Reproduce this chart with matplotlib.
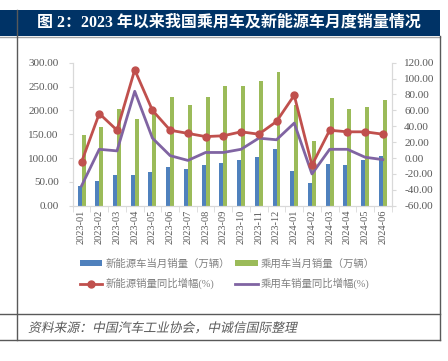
# -*- coding: utf-8 -*-
"""
2023 年以来乘用车及新能源车月度销量（柱：万辆，线：同比 %）
"""

import numpy as np
import matplotlib.pyplot as plt
from matplotlib.patches import Rectangle, PathPatch
from matplotlib.lines import Line2D
from matplotlib.textpath import TextPath
from matplotlib.font_manager import FontProperties
from matplotlib.transforms import Affine2D

# ============================================================
# 1. DATOS
# ============================================================
meses = ["2023-01", "2023-02", "2023-03", "2023-04", "2023-05", "2023-06",
         "2023-07", "2023-08", "2023-09", "2023-10", "2023-11", "2023-12",
         "2024-01", "2024-02", "2024-03", "2024-04", "2024-05", "2024-06"]

ventas_nev = [40.8, 52.5, 65.3, 63.6, 71.7, 80.6, 78.0, 84.6, 90.4, 95.6,
              102.6, 119.1, 72.9, 47.7, 88.3, 85.0, 95.5, 104.9]
ventas_pc = [148, 166, 202, 181, 206, 227, 211, 229, 251, 251,
             261, 280, 211, 135, 225, 202, 208, 222]

yoy_nev = [-5, 56, 35, 111, 60, 35, 31, 27, 28, 33, 30, 46,
           79, -9, 35, 33, 33, 30]
yoy_pc = [-35, 11, 9, 84, 25, 3, -3, 7, 7, 11, 25, 23,
          44, -20, 11, 11, 1, -2]

TITULO = "图 2：2023 年以来我国乘用车及新能源车月度销量情况"
FUENTE = "资料来源：中国汽车工业协会，中诚信国际整理"

AZUL = "#4F81BD"
VERDE = "#9BBB59"
ROJO = "#C0504D"
MORADO = "#8064A2"
NAVY = "#003366"
GRIS_TXT = "#595959"
GRIS_LEY = "#808080"
GRIS_EJE = "#D9D9D9"
BORDE = "#595959"

CJK = ["Liberation Serif", "Noto Sans CJK SC"]
plt.rcParams["font.family"] = CJK

W, H = 448, 361

# ============================================================
# 2. FIGURA Y MARCO
# ============================================================
fig = plt.figure(figsize=(W / 100, H / 100), dpi=100)
fig.patch.set_facecolor("white")


def px(x, y):
    """pixel (desde arriba-izquierda) -> coordenadas de figura"""
    return x / W, 1 - y / H


# barra de titulo
x0, y0 = px(0, 36)
fig.patches.append(Rectangle((x0, y0), 440 / W, 26 / H, transform=fig.transFigure,
                             facecolor=NAVY, edgecolor="none", zorder=0))
fig.text(*px(229, 23), TITULO, color="white", fontsize=11.5, fontweight="bold",
         ha="center", va="center")


# lineas del marco
def linea(xa, ya, xb, yb, color=BORDE, lw=1.0):
    (fa, ga), (fb, gb) = px(xa, ya), px(xb, yb)
    fig.add_artist(Line2D([fa, fb], [ga, gb], transform=fig.transFigure,
                          color=color, lw=lw))


linea(0, 36.5, 440, 36.5, color="#A6A6A6")
linea(16.7, 10, 16.7, 340)
linea(440, 36, 440, 340)
linea(0, 314, 440, 314)
linea(0, 340, 440, 340)

# fuente en cursiva: Noto CJK no tiene italica, se inclina el trazo a mano
tp = TextPath((0, 0), FUENTE, size=12.8,
              prop=FontProperties(family="Noto Sans CJK SC"))
tr = Affine2D().skew_deg(12, 0).translate(28, H - 332)
fig.add_artist(PathPatch(tr.transform_path(tp), transform=None,
                         facecolor="#5a5a5a", edgecolor="none", lw=0))

# ============================================================
# 3. EJES
# ============================================================
ax = fig.add_axes([72.7 / W, 1 - 205.7 / H, 319 / W, 143 / H])
ax2 = ax.twinx()

x = np.arange(len(meses))
ancho = 0.225
ax.bar(x - ancho / 2, ventas_nev, width=ancho, color=AZUL, zorder=2,
       label="新能源车当月销量（万辆）")
ax.bar(x + ancho / 2, ventas_pc, width=ancho, color=VERDE, zorder=2,
       label="乘用车当月销量（万辆）")

ax2.plot(x, yoy_nev, color=ROJO, lw=2.0, marker="o", ms=5, zorder=4,
         label="新能源销量同比增幅(%)")
ax2.plot(x, yoy_pc, color=MORADO, lw=2.0, zorder=3,
         label="乘用车销量同比增幅(%)")

ax.set_xlim(-0.5, len(meses) - 0.5)
ax.set_ylim(0, 300)
ax.set_yticks(np.arange(0, 301, 50))
ax.set_yticklabels([f"{v:.2f}" for v in np.arange(0, 301, 50)])
ax2.set_ylim(-60, 120)
ax2.set_yticks(np.arange(-60, 121, 20))
ax2.set_yticklabels([f"{v:.2f}" for v in np.arange(-60, 121, 20)])

ax.set_xticks(x)
ax.set_xticklabels(meses, rotation=90)
ax.set_xticks(np.arange(-0.5, len(meses), 1), minor=True)
ax.tick_params(axis="x", which="major", length=0, pad=3, labelsize=7.5,
               labelcolor=GRIS_TXT)
ax.tick_params(axis="x", which="minor", length=4, color=GRIS_EJE)
ax.tick_params(axis="y", length=3, color=GRIS_EJE, labelsize=8,
               labelcolor=GRIS_TXT, pad=7)
ax2.tick_params(axis="y", length=3, color=GRIS_EJE, labelsize=8,
                labelcolor=GRIS_TXT, pad=6)

for a in (ax, ax2):
    a.spines["top"].set_visible(False)
    for s in ("left", "right", "bottom"):
        a.spines[s].set_color(GRIS_EJE)
    a.set_facecolor("none")

# ============================================================
# 4. LEYENDA
# ============================================================
h1, l1 = ax.get_legend_handles_labels()
h2, l2 = ax2.get_legend_handles_labels()
handles = [h1[0], h2[0], h1[1], h2[1]]
labels = [l1[0], l2[0], l1[1], l2[1]]
fig.legend(handles, labels, ncol=2, loc="center",
           bbox_to_anchor=(px(227, 274)), frameon=False,
           labelcolor=GRIS_LEY, handlelength=2.2, handleheight=0.45,
           columnspacing=0.5, labelspacing=0.85, handletextpad=0.25,
           prop={"family": CJK, "size": 7.5})

plt.savefig("out.png", dpi=100, facecolor="white")
